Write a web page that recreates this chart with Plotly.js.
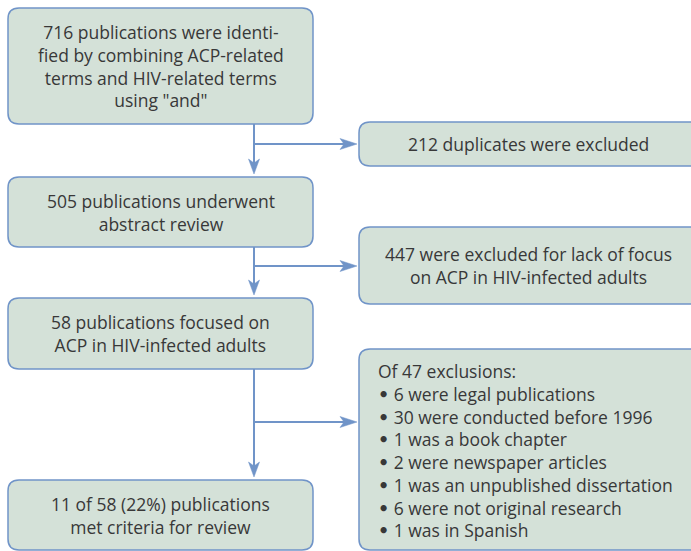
<!DOCTYPE html>
<html>
<head>
<meta charset="utf-8">
<script src="https://cdn.plot.ly/plotly-3.0.1.min.js"></script>
<style>html,body{margin:0;padding:0;background:#fff;}#chart{width:691px;height:551px;}</style>
</head>
<body>
<div id="chart"></div>
<script>
// ---- data (text content of the flow chart) ----
const mainSteps = [
  "716 publications were identi-<br>fied by combining ACP-related<br>terms and HIV-related terms<br>using \"and\"",
  "505 publications underwent<br>abstract review",
  "58 publications focused on<br>ACP in HIV-infected adults",
  "11 of 58 (22%) publications<br>met criteria for review"
];
const exclusionSteps = [
  "212 duplicates were excluded",
  "447 were excluded for lack of focus<br>on ACP in HIV-infected adults"
];
const exclusionHeader = "Of 47 exclusions:";
const exclusionReasons = [
  "6 were legal publications",
  "30 were conducted before 1996",
  "1 was a book chapter",
  "2 were newspaper articles",
  "1 was an unpublished dissertation",
  "6 were not original research",
  "1 was in Spanish"
];

// ---- geometry / style ----
const W = 691, H = 551;
const leftX = [8, 313];
const leftY = [[8, 124], [177, 247], [298, 369], [480, 550]];
const rightX = [359, 705];
const rightY = [[122, 166], [227, 304], [349, 550]];
const arrowY = [144, 266, 422];
const stemX = 254;
const FILL = "#d4e1d8", LINE = "#7094c8", TEXT = "#383838";
const FONT = "Open Sans, Noto Sans, sans-serif";
const FS = 17.5;

function roundRect(x0, x1, y0, y1, r) {
  return `M${x0 + r},${y0} L${x1 - r},${y0} Q${x1},${y0} ${x1},${y0 + r} L${x1},${y1 - r} Q${x1},${y1} ${x1 - r},${y1} L${x0 + r},${y1} Q${x0},${y1} ${x0},${y1 - r} L${x0},${y0 + r} Q${x0},${y0} ${x0 + r},${y0} Z`;
}
function headDown(x, y) { // tip at (x,y)
  return `M${x},${y} L${x - 5.5},${y - 15} L${x},${y - 11} L${x + 5.5},${y - 15} Z`;
}
function headRight(x, y) {
  return `M${x},${y} L${x - 17},${y - 5.5} L${x - 13},${y} L${x - 17},${y + 5.5} Z`;
}

const shapes = [];
const annotations = [];

// left boxes
mainSteps.forEach((t, i) => {
  const [y0, y1] = leftY[i];
  shapes.push({type: "path", path: roundRect(leftX[0], leftX[1], y0, y1, 11),
    fillcolor: FILL, line: {color: LINE, width: 1.5}, layer: "below"});
  annotations.push({x: (leftX[0] + leftX[1]) / 2, y: (y0 + y1) / 2, text: t,
    showarrow: false, xanchor: "center", yanchor: "middle", align: "center",
    font: {family: FONT, size: FS, color: TEXT}});
});

// right boxes
const rightTexts = exclusionSteps.slice();
rightY.forEach((yy, i) => {
  const [y0, y1] = yy;
  shapes.push({type: "path", path: roundRect(rightX[0], rightX[1], y0, y1, 11),
    fillcolor: FILL, line: {color: LINE, width: 1.5}, layer: "below"});
  if (i < rightTexts.length) {
    annotations.push({x: (rightX[0] + 691) / 2 + 3, y: (y0 + y1) / 2, text: rightTexts[i],
      showarrow: false, xanchor: "center", yanchor: "middle", align: "center",
      font: {family: FONT, size: FS, color: TEXT}});
  }
});

// list box text
const bullet = "<span style=\"font-family:DejaVu Sans;font-weight:bold\">\u2022</span>\u00a0";
const listText = [exclusionHeader].concat(
  exclusionReasons.map(r => bullet + r)).join("<br>");
annotations.push({x: 376, y: (rightY[2][0] + rightY[2][1]) / 2 + 1, text: listText,
  showarrow: false, xanchor: "left", yanchor: "middle", align: "left",
  font: {family: FONT, size: FS, color: TEXT}});

// connectors
for (let i = 0; i < 3; i++) {
  const yTop = leftY[i][1], yNext = leftY[i + 1][0];
  shapes.push({type: "line", x0: stemX, x1: stemX, y0: yTop, y1: yNext - 12,
    line: {color: LINE, width: 2}});
  shapes.push({type: "path", path: headDown(stemX, yNext - 3), fillcolor: LINE,
    line: {color: LINE, width: 0.5}});
  shapes.push({type: "line", x0: stemX, x1: rightX[0] - 14, y0: arrowY[i], y1: arrowY[i],
    line: {color: LINE, width: 2}});
  shapes.push({type: "path", path: headRight(rightX[0] - 2, arrowY[i]), fillcolor: LINE,
    line: {color: LINE, width: 0.5}});
}

const layout = {
  width: W, height: H,
  margin: {l: 0, r: 0, t: 0, b: 0},
  paper_bgcolor: "#ffffff", plot_bgcolor: "#ffffff",
  xaxis: {range: [0, W], visible: false, fixedrange: true},
  yaxis: {range: [H, 0], visible: false, fixedrange: true},
  shapes: shapes, annotations: annotations, showlegend: false
};
Plotly.newPlot("chart", [{x: [], y: [], type: "scatter"}], layout, {displayModeBar: false, staticPlot: true});
</script>
</body>
</html>
